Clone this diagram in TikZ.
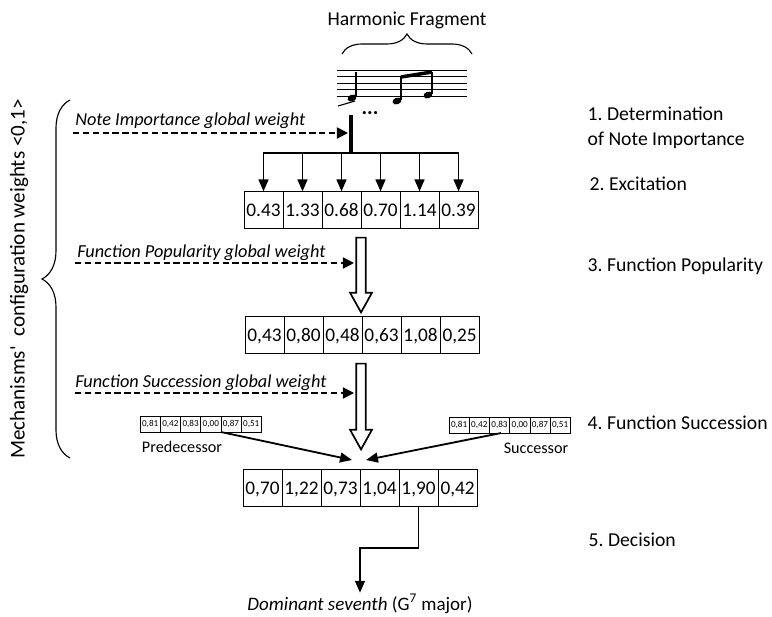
\documentclass[tikz,border=0pt]{standalone}
\usepackage{fontspec}
\setmainfont{Carlito}
\frenchspacing
\usepackage{tikz}
\usetikzlibrary{arrows.meta, positioning, calc, decorations.pathreplacing}

% hollow arrow between two points on one vertical
\newcommand{\fatarrow}[2]{%
    \draw[hollow] let \p1=(#1), \p2=(#2) in
        (\x1-3.4pt,\y1) -- (\x1-3.4pt,\y2+14pt) -- (\x1-7.8pt,\y2+14pt) -- (\x1,\y2)
        -- (\x1+7.8pt,\y2+14pt) -- (\x1+3.4pt,\y2+14pt) -- (\x1+3.4pt,\y1) -- cycle;}

\begin{document}
\begin{tikzpicture}[x=0.025cm, y=-0.025cm, node distance=0pt,
    steplabel/.style={font=\fontsize{14}{17.8}\selectfont, inner sep=1pt},
    weightlabel/.style={font=\fontsize{13}{15}\selectfont\itshape, inner sep=0pt},
    tag/.style={font=\fontsize{11.5}{13}\selectfont, inner sep=0pt},
    cell/.style={draw, rectangle, text centered, minimum width=0.975cm, minimum height=0.93cm, inner sep=0pt, outer sep=0pt, text height=8.6pt, text depth=0pt, font=\fontsize{13.7}{16}\selectfont},
    tinycell/.style={draw, rectangle, text centered, minimum width=0.505cm, minimum height=0.4cm, inner sep=0pt, outer sep=0pt, text height=4.2pt, text depth=0pt, font=\fontsize{6.5}{7}\selectfont},
    arr/.style={line width=1.3pt, -{Triangle[length=8.5pt, width=7pt]}},
    dasharrow/.style={line width=1.2pt, dash pattern=on 4.5pt off 2.5pt, -{Triangle[length=8pt, width=8pt]}},
    hollow/.style={draw, line width=1.2pt, fill=white}]

    \useasboundingbox (0,0) rectangle (772,617);

    % Harmonic fragment with its staff
    \node (fragment) [steplabel] at (407,20) {Harmonic Fragment};
    \draw[decorate, decoration={brace, amplitude=0.5cm}, line width=0.8pt] (342,54) -- (472,54);
    \foreach \y in {70,76.5,83,89.5,96}
        \draw[line width=0.6pt] (337,\y) -- (467,\y);
    \fill[rotate around={20:(352,98)}] (352,98) ellipse [x radius=4.6, y radius=3.3];
    \fill[rotate around={20:(397,101)}] (397,101) ellipse [x radius=4.6, y radius=3.3];
    \fill[rotate around={20:(428,95)}] (428,95) ellipse [x radius=4.6, y radius=3.3];
    \draw[line width=0.8pt] (356,97) -- (356,72);
    \draw[line width=0.8pt] (401,100) -- (401,77);
    \draw[line width=0.8pt] (432,94) -- (432,72);
    \draw[line width=2.5pt] (401,77) -- (432,72);
    \draw[line width=0.8pt] (338,106) .. controls (346,103) .. (355,101);
    \node (dots) [font=\fontsize{15}{15}\selectfont\bfseries] at (370,113) {...};

    % Steps on the right
    \node (determination) [steplabel, anchor=west, align=left] at (586,128) {1. Determination\\of Note Importance};
    \node (excitation) [steplabel, anchor=west] at (588,184) {2. Excitation};
    \node (popularity) [steplabel, anchor=west] at (586,266) {3. Function Popularity};
    \node (succession) [steplabel, anchor=west] at (586,423) {4. Function Succession};
    \node (decision) [steplabel, anchor=west] at (587,540) {5. Decision};

    % Mechanisms' weights on the left
    \node (mechanisms) [steplabel, rotate=90, font=\fontsize{15}{17}\selectfont] at (19,279) {Mechanisms\textquotesingle\ \ configuration weights <0,1>};
    \draw[decorate, decoration={brace, amplitude=0.7cm}, line width=0.8pt] (70,458) -- (70,100);

    % Rows of values
    \node (exc1) [cell] at (263.5,210) {0.43};
    \foreach \v [count=\i from 2, remember=\i as \j (initially 1)] in {1.33,0.68,0.70,1.14,0.39}
        \node (exc\i) [cell, right=of exc\j] {\v};
    \node (pop1) [cell] at (264.5,335) {0,43};
    \foreach \v [count=\i from 2, remember=\i as \j (initially 1)] in {{0,80},{0,48},{0,63},{1,08},{0,25}}
        \node (pop\i) [cell, right=of pop\j] {\v};
    \node (dec1) [cell] at (262.5,488) {0,70};
    \foreach \v [count=\i from 2, remember=\i as \j (initially 1)] in {{1,22},{0,73},{1,04},{1,90},{0,42}}
        \node (dec\i) [cell, right=of dec\j] {\v};

    % Predecessor and successor
    \node (pred1) [tinycell] at (150.2,424) {0,81};
    \foreach \v [count=\i from 2, remember=\i as \j (initially 1)] in {{0,42},{0,83},{0,00},{0,87},{0,51}}
        \node (pred\i) [tinycell, right=of pred\j] {\v};
    \node (succ1) [tinycell] at (459.1,425) {0,81};
    \foreach \v [count=\i from 2, remember=\i as \j (initially 1)] in {{0,42},{0,83},{0,00},{0,87},{0,51}}
        \node (succ\i) [tinycell, right=of succ\j] {\v};
    \node (predLabel) [tag] at (182,447) {Predecessor};
    \node (succLabel) [tag] at (536,448) {Successor};

    % Excitation of the notes
    \coordinate (stemTop) at (351,115);
    \coordinate (stemBottom) at (351,153);
    \draw[line width=2.8pt] (stemTop) -- (stemBottom);
    \draw[line width=1.3pt, line cap=rect] (exc1 |- stemBottom) -- (exc6 |- stemBottom);
    \foreach \i in {1,...,6}
        \draw[arr] (exc\i |- stemBottom) -- (exc\i.north);

    % Global weights
    \node (noteWeight) [weightlabel, anchor=base west] at (75,126) {Note Importance global weight};
    \coordinate (noteStart) at (73,133);
    \coordinate (noteEnd) at (348,133);
    \draw[dasharrow] (noteStart) -- (noteEnd);
    \node (popWeight) [weightlabel, anchor=base west] at (77,258) {Function Popularity global weight};
    \coordinate (popStart) at (75,263);
    \coordinate (popEnd) at (354,263);
    \draw[dasharrow] (popStart) -- (popEnd);
    \node (succWeight) [weightlabel, anchor=base west] at (75,388) {Function Succession global weight};
    \coordinate (succStart) at (75,393);
    \coordinate (succEnd) at (354,393);
    \draw[dasharrow] (succStart) -- (succEnd);

    % Hollow arrows between the rows
    \coordinate (excGap) at ($(exc3.south east)+(0,9)$);
    \coordinate (popTip) at ($(pop3.north east)+(0,-4)$);
    \fatarrow{excGap}{popTip}
    \coordinate (popGap) at ($(exc3.south east |- pop3.south)+(0,10)$);
    \coordinate (decTip) at ($(dec3.north east)+(0,-20)$);
    \fatarrow{popGap}{decTip}

    % Succession arrows
    \coordinate (meetLeft) at (352,460);
    \coordinate (meetRight) at (366,460);
    \draw[arr] (pred4.south east) -- (meetLeft);
    \draw[arr] ([xshift=-6pt]succ3.south east) -- (meetRight);

    % Decision
    \node (result) [steplabel, font=\fontsize{13.5}{15}\selectfont] at (360,604) {\textit{Dominant seventh} (G\textsuperscript{7} major)};
    \draw[arr] (dec5.south) -- ++(0,41) -| (result.north);

\end{tikzpicture}
\end{document}
